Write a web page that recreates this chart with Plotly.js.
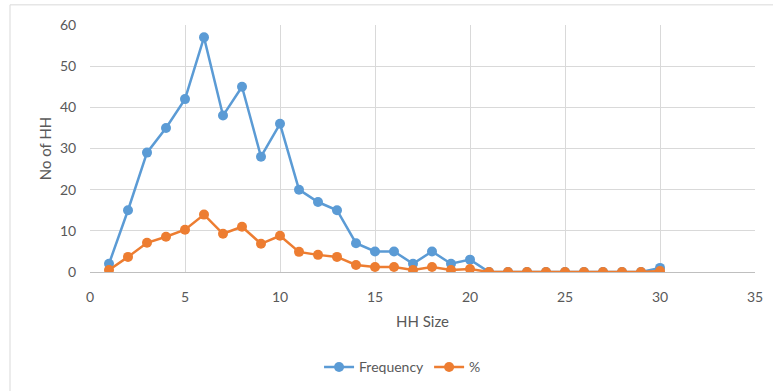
<!DOCTYPE html>
<html>
<head>
<meta charset="utf-8">
<script src="https://cdn.plot.ly/plotly-3.0.1.min.js"></script>
<style>html,body{margin:0;padding:0;background:#fff;}#chart{width:773px;height:391px;}</style>
</head>
<body>
<div id="chart"></div>
<script>
const hhSize = [1,2,3,4,5,6,7,8,9,10,11,12,13,14,15,16,17,18,19,20,21,22,23,24,25,26,27,28,29,30];
const frequency = [2,15,29,35,42,57,38,45,28,36,20,17,15,7,5,5,2,5,2,3,0,0,0,0,0,0,0,0,0,1];
const percent = [0.49,3.67,7.09,8.56,10.27,13.94,9.29,11.00,6.85,8.80,4.89,4.16,3.67,1.71,1.22,1.22,0.49,1.22,0.49,0.73,0,0,0,0,0,0,0,0,0,0.24];
const xTitle = "HH Size";
const yTitle = "No of HH";

const fontFam = "Lato, 'Open Sans', sans-serif";
const traces = [
  {x: hhSize, y: frequency, name: "Frequency", type: "scatter", mode: "lines+markers",
   line: {color: "#5B9BD5", width: 2.5}, marker: {color: "#5B9BD5", size: 10}},
  {x: hhSize, y: percent, name: "%", type: "scatter", mode: "lines+markers",
   line: {color: "#ED7D31", width: 2.5}, marker: {color: "#ED7D31", size: 10}}
];
const layout = {
  width: 773, height: 391,
  margin: {l: 90, r: 18, t: 25, b: 119, autoexpand: false},
  paper_bgcolor: "#fff", plot_bgcolor: "#fff",
  font: {family: fontFam, size: 14, color: "#595959"},
  showlegend: true,
  legend: {orientation: "h", x: 0.47, xanchor: "center", y: -0.386, yanchor: "middle",
           font: {family: fontFam, size: 14, color: "#595959"}},
  xaxis: {range: [0, 35], dtick: 5, tick0: 0, showgrid: true, gridcolor: "#d9d9d9", gridwidth: 1,
          zeroline: false, showline: true, linecolor: "#bfbfbf", linewidth: 1, automargin: false,
          ticks: "outside", ticklen: 12, tickcolor: "rgba(0,0,0,0)",
          tickfont: {size: 14, color: "#595959"},
          title: {text: xTitle, font: {size: 15, color: "#595959"}, standoff: 12}},
  yaxis: {range: [0, 60], dtick: 10, showgrid: true, gridcolor: "#d9d9d9", gridwidth: 1,
          zeroline: false, showline: false, automargin: false,
          ticks: "outside", ticklen: 10, tickcolor: "rgba(0,0,0,0)",
          tickfont: {size: 14, color: "#595959"},
          title: {text: yTitle, font: {size: 15, color: "#595959"}, standoff: 4}},
  shapes: [
    {type: "line", xref: "paper", yref: "paper", x0: -0.1203, x1: 1.05, y0: 1.0816, y1: 1.0816,
     line: {color: "#d9d9d9", width: 1}},
    {type: "line", xref: "paper", yref: "paper", x0: -0.1203, x1: -0.1203, y0: 1.0816, y1: -0.6,
     line: {color: "#d9d9d9", width: 1}}
  ]
};
Plotly.newPlot("chart", traces, layout, {displayModeBar: false, staticPlot: true});
</script>
</body>
</html>
